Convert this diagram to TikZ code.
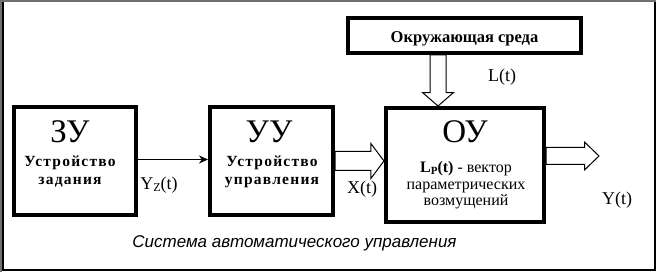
\documentclass[tikz,border=0pt]{standalone}
\usepackage{fontspec}
\setmainfont{Liberation Serif}
\setsansfont{Liberation Sans}
\newfontfamily\widefont[LetterSpace=8]{Liberation Serif}
\usetikzlibrary{arrows.meta, shapes.arrows}
\definecolor{framegray}{HTML}{707070}

\begin{document}
\begin{tikzpicture}[x=1pt, y=-1pt,
    >=Stealth,
    blk/.style={draw, line width=4pt, inner sep=0pt, minimum width=122pt, minimum height=108pt},
    bigl/.style={font=\fontsize{33}{33}\selectfont, inner sep=0pt, anchor=base},
    sublbl/.style={font=\widefont\bfseries\fontsize{15.5}{18}\selectfont, align=center, inner sep=0pt, anchor=base},
    ptext/.style={font=\fontsize{16}{16.5}\selectfont, align=center, inner sep=0pt, anchor=base},
    siglbl/.style={font=\fontsize{18}{18}\selectfont, inner sep=0pt, anchor=base},
    fat/.style={draw, line width=1pt, single arrow, inner sep=0pt, outer sep=0pt,
      minimum width=0pt, anchor=tail}]
  \useasboundingbox (0,0) rectangle (656,272);
  % frame
  \draw[framegray, line width=2pt] (1,272) -- (1,1) -- (656,1);
  \draw[line width=2pt] (3,2) -- (3,270) -- (655,270) -- (655,2);
  % blocks
  \node[blk] (zu) at (75,161) {};
  \node[blk, minimum width=123pt] (uu) at (271.5,161) {};
  \node[blk, minimum width=158pt, minimum height=114pt] (ou) at (465,165) {};
  \node[blk, minimum width=233pt, minimum height=35pt, text height=15pt, text depth=0pt,
    font=\bfseries\fontsize{16.5}{16.5}\selectfont] (env) at (464.5,35.5) {Окружающая среда};
  % texts in blocks
  \node[bigl] (zuname) at (70,143) {ЗУ};
  \node[sublbl] (zutext) at (70,185) {Устройство\\задания};
  \node[bigl] (uuname) at (269,143) {УУ};
  \node[sublbl] (uutext) at (272,185) {Устройство\\управления};
  \node[bigl] (ouname) at (465,143) {ОУ};
  \node[ptext] (outext) at (466,206) {\textbf{L\raisebox{-1.5pt}{\fontsize{11}{11}\selectfont P}(t)} - вектор\\параметрических\\возмущений};
  % connections
  \draw[-{Stealth[length=9pt, width=8pt]}, line width=1.5pt] (zu.east |- 0,159.5) -- (uu.west |- 0,159.5);
  \node[fat, minimum height=49pt, inner ysep=9pt, single arrow head extend=8pt,
    single arrow tip angle=106] (xarr) at (uu.east |- 0,161) {};
  \node[fat, minimum height=51pt, inner ysep=7.5pt, single arrow head extend=7.5pt,
    single arrow tip angle=98, rotate=-90] (larr) at (env.south -| 438,0) {};
  \node[fat, minimum height=53pt, inner ysep=8pt, single arrow head extend=5.5pt,
    single arrow tip angle=88] (yarr) at (ou.east |- 0,156) {};
  % signals
  \node[siglbl] (yz) at (159,190) {Y\raisebox{-2pt}{\fontsize{12}{12}\selectfont Z}(t)};
  \node[siglbl] (xt) at (362,194) {X(t)};
  \node[siglbl] (lt) at (502,81.5) {L(t)};
  \node[siglbl] (yt) at (617,205) {Y(t)};
  % caption
  \node[font=\sffamily\itshape\fontsize{17}{17}\selectfont, inner sep=0pt, anchor=base] (caption) at (294.5,248) {Система автоматического управления};
\end{tikzpicture}
\end{document}
